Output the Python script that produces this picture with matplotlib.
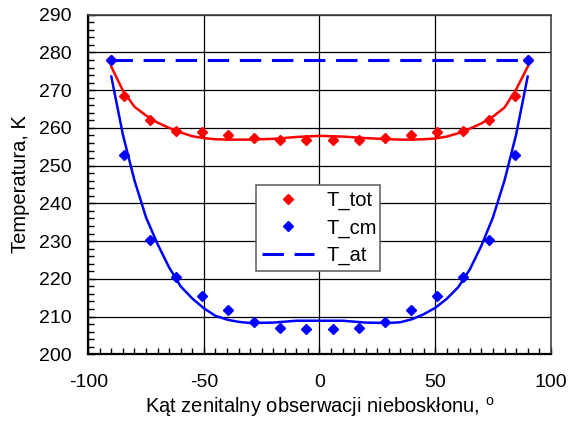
import matplotlib; matplotlib.use('Agg'); import matplotlib.pyplot as plt
from matplotlib.ticker import MultipleLocator

plt.rcParams['font.family'] = ['Liberation Sans', 'DejaVu Sans']
plt.rcParams['mathtext.fontset'] = 'custom'
plt.rcParams['mathtext.rm'] = 'Liberation Sans'
plt.rcParams['axes.unicode_minus'] = False

# measured points (zenith angle, deg)
ang = [-90, -84.375, -73.125, -61.875, -50.625, -39.375, -28.125, -16.875, -5.625,
       5.625, 16.875, 28.125, 39.375, 50.625, 61.875, 73.125, 84.375, 90]
t_tot = [278, 268.5, 262.0, 259.3, 258.8, 258.0, 257.2, 256.9, 256.9,
         256.9, 256.9, 257.2, 258.0, 258.8, 259.3, 262.0, 268.5, 278]
t_cm = [278, 252.9, 230.3, 220.6, 215.4, 211.8, 208.6, 207.0, 206.6,
        206.6, 207.0, 208.6, 211.8, 215.4, 220.6, 230.3, 252.9, 278]
t_at = 278

# model curves
ang_fit = [-90, -85, -80, -75, -70, -65, -60, -55, -50, -45, -40, -35, -30, -20, -10, 0,
           10, 20, 30, 35, 40, 45, 50, 55, 60, 65, 70, 75, 80, 85, 90]
tot_fit = [276.2, 269.9, 265.6, 263.3, 261.4, 260.0, 258.8, 257.8, 257.3, 257.0, 256.9, 256.9, 256.9, 257.1, 257.6, 257.9,
           257.7, 257.3, 257.0, 256.9, 256.9, 257.0, 257.2, 257.7, 258.6, 259.8, 261.2, 263.0, 265.4, 270.2, 276.2]
cm_fit = [273.6, 258.2, 246.1, 236.3, 229.2, 223.0, 218.0, 214.8, 212.2, 210.2, 209.2, 208.6, 208.3, 208.4, 208.9, 208.9,
          208.9, 208.4, 208.3, 208.5, 209.3, 210.6, 212.3, 214.7, 217.8, 222.5, 228.8, 236.3, 246.1, 258.2, 273.6]

fig = plt.figure(figsize=(5.69, 4.23), dpi=100)
ax = fig.add_axes([0.155, 0.1624, 0.813, 0.8028])

ax.plot([-90, 90], [t_at, t_at], color='#0000ff', lw=2.2, dashes=(7, 3.5), label='T_at', zorder=3)
ax.plot(ang_fit, tot_fit, color='#ff0000', lw=1.8, zorder=3)
ax.plot(ang, t_tot, 'D', color='#ff0000', ms=5.5, label='T_tot', zorder=4)
ax.plot(ang_fit, cm_fit, color='#0000ff', lw=1.8, zorder=3)
ax.plot(ang, t_cm, 'D', color='#0000ff', ms=5.5, label='T_cm', zorder=5)

ax.set_xlim(-100, 100); ax.set_ylim(200, 290)
ax.xaxis.set_major_locator(MultipleLocator(50)); ax.xaxis.set_minor_locator(MultipleLocator(5))
ax.yaxis.set_major_locator(MultipleLocator(10)); ax.yaxis.set_minor_locator(MultipleLocator(2))
ax.tick_params(which='both', direction='in', top=False, right=False, labelsize=14, color='black')
ax.tick_params(which='major', length=5, width=1)
ax.tick_params(which='minor', length=4, width=1)
ax.tick_params(axis='x', pad=14)
ax.tick_params(axis='y', pad=12)
ax.grid(True, which='major', color='black', lw=0.9)
for s in ['left', 'bottom']:
    ax.spines[s].set_linewidth(1.6); ax.spines[s].set_color('black')
for s in ['top', 'right']:
    ax.spines[s].set_linewidth(1.2); ax.spines[s].set_color('#444444')

ax.set_xlabel('Kąt zenitalny obserwacji nieboskłonu, $^{\\mathrm{o}}$', fontsize=14.5, labelpad=3)
ax.set_ylabel('Temperatura, K', fontsize=14.5, labelpad=6)

h, l = ax.get_legend_handles_labels()
order = [l.index('T_tot'), l.index('T_cm'), l.index('T_at')]
leg = ax.legend([h[i] for i in order], [l[i] for i in order], loc='lower left',
                bbox_to_anchor=(0.362, 0.245, 0.268, 0.28), mode='expand', fontsize=14.5,
                fancybox=False, framealpha=1, edgecolor='#666666', handlelength=2.6,
                borderpad=0.3, labelspacing=0.4, handletextpad=0.6, borderaxespad=0)
leg.get_frame().set_linewidth(1.2)

plt.savefig('out.png', dpi=100)
